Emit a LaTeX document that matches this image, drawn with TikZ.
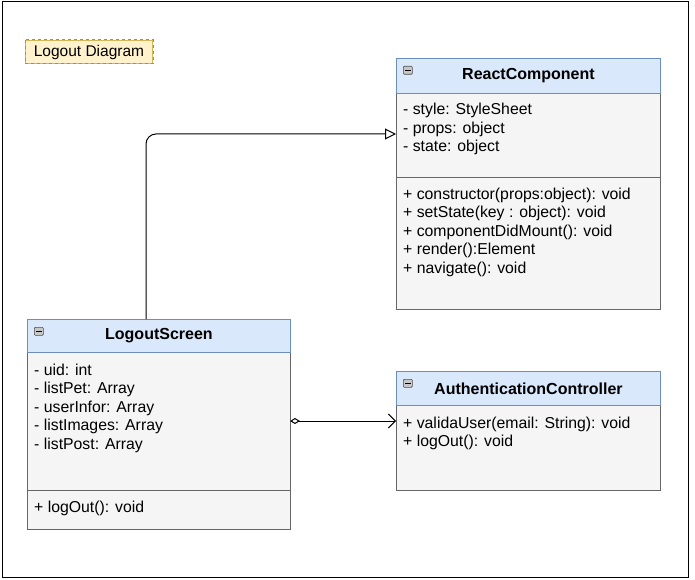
\documentclass[tikz,border=0pt]{standalone}
\usepackage{fontspec}
\setmainfont{Liberation Sans}
\usetikzlibrary{arrows.meta}
\definecolor{hdrfill}{HTML}{DAE8FC}
\definecolor{hdrline}{HTML}{6C8EBF}
\definecolor{bodyfill}{HTML}{F5F5F5}
\definecolor{bodyline}{HTML}{666666}
\definecolor{notefill}{HTML}{FFF2CC}
\definecolor{noteline}{HTML}{D6B656}
\definecolor{notedash}{HTML}{3FA9D9}
\tikzset{
  hdr/.style={draw=hdrline, fill=hdrfill, line width=0.9pt, anchor=north west,
    inner sep=0pt, font=\fontsize{16}{18}\selectfont\bfseries},
  bodybox/.style={draw=bodyline, fill=bodyfill, line width=0.9pt, anchor=north west, inner sep=0pt},
  % anchored at the baseline of the last line
  members/.style={anchor=base west, inner sep=0pt, align=left,
    font=\fontsize{15.8}{18.5}\selectfont},
  togglebox/.style={draw=black!70, fill=black!22, rounded corners=1pt, line width=0.6pt,
    minimum width=9pt, minimum height=8pt, inner sep=0pt, anchor=north west},
  conn/.style={line width=1pt, black}
}
\begin{document}
\begin{tikzpicture}[x=1pt,y=-1pt]
\useasboundingbox (0,0) rectangle (695,580);
\draw[line width=1pt] (2,2) rectangle (688,577);

% title note
\node[draw=noteline, fill=notefill, line width=1pt, anchor=north west, inner sep=0pt,
  minimum width=127pt, minimum height=23pt, font=\fontsize{15.5}{17}\selectfont] (note) at (25,40) {Logout Diagram};
\draw[notedash, dashed, dash pattern=on 3pt off 3pt, line width=1pt] (note.north west) rectangle (note.south east);

% ReactComponent
\node[bodybox, minimum width=264pt, minimum height=132pt] (rcops) at (396,177) {};
\node[bodybox, minimum width=264pt, minimum height=84pt] (rcattr) at (396,93) {};
\node[hdr, minimum width=264pt, minimum height=35pt] (rc) at (396,58) {ReactComponent};
\node[togglebox] (rctog) at (403,66) {};
\draw[line width=1pt] ([xshift=2pt]rctog.west) -- ([xshift=-2pt]rctog.east);
\node[members] (rcattrtxt) at (403,152) {- style: StyleSheet\\- props: object\\- state: object};
\node[members] (rcopstxt) at (403,273) {+ constructor(props:object): void\\+ setState(key : object): void\\+ componentDidMount(): void\\+ render():Element\\+ navigate(): void};

% LogoutScreen
\node[bodybox, minimum width=263pt, minimum height=39pt] (lsops) at (27,490) {};
\node[bodybox, minimum width=263pt, minimum height=138pt] (lsattr) at (27,352) {};
\node[hdr, minimum width=263pt, minimum height=33pt] (ls) at (27,319) {LogoutScreen};
\node[togglebox] (lstog) at (34,327) {};
\draw[line width=1pt] ([xshift=2pt]lstog.west) -- ([xshift=-2pt]lstog.east);
\node[members] (lsattrtxt) at (34,449) {- uid: int\\- listPet: Array\\- userInfor: Array\\- listImages: Array\\- listPost: Array};
\node[members] (lsopstxt) at (34,512) {+ logOut(): void};

% AuthenticationController
\node[bodybox, minimum width=264pt, minimum height=85pt] (acops) at (396,405) {};
\node[hdr, minimum width=264pt, minimum height=34pt] (ac) at (396,371) {AuthenticationController};
\node[togglebox] (actog) at (403,379) {};
\draw[line width=1pt] ([xshift=2pt]actog.west) -- ([xshift=-2pt]actog.east);
\node[members] (acopstxt) at (403,446.5) {+ validaUser(email: String): void\\+ logOut(): void};

% generalization
\coordinate (bend) at (146,134);
\draw[conn, rounded corners=10pt, -{Triangle[open, length=11pt, width=11pt]}]
  (ls.north -| bend) -- (bend) -- (bend -| rcattr.west);

% aggregation
\coordinate (agg) at (290,421);
\draw[conn, {Diamond[open, length=10pt, width=6pt]}-{Straight Barb[length=7pt, width=14pt, line width=1pt]}]
  (agg) -- (agg -| acops.west);
\end{tikzpicture}
\end{document}
